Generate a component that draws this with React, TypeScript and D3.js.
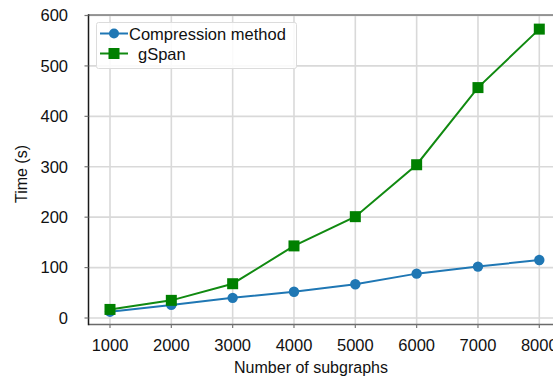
import React, { useEffect, useRef } from 'react';
import * as d3 from 'd3';

const subgraphs = [1000, 2000, 3000, 4000, 5000, 6000, 7000, 8000];
const compressionTimes = [12.5, 26, 40, 52, 67, 88, 102, 115];
const gspanTimes = [17, 35, 68, 143, 201, 304, 457, 573];
const yTicks = [0, 100, 200, 300, 400, 500, 600];
const seriesNames = ['Compression method', 'gSpan'];

const WIDTH = 553;
const HEIGHT = 377;

const App: React.FC = () => {
  const svgRef = useRef<SVGSVGElement>(null);

  useEffect(() => {
    const svgElement = svgRef.current;
    if (!svgElement) return;
    const svg = d3.select(svgElement);
    svg.selectAll('*').remove();

    const plot = { left: 88.5, top: 15, right: 562, bottom: 324.5 };
    const font = '"Liberation Sans", Arial, sans-serif';

    const xScale = d3.scaleLinear().domain([1000, 8000]).range([110, 539.3]);
    const yScale = d3.scaleLinear().domain([0, 600]).range([318, 15.5]);

    svg.append('defs')
      .append('clipPath')
      .attr('id', 'plot-clip')
      .append('rect')
      .attr('x', plot.left)
      .attr('y', plot.top - 8)
      .attr('width', plot.right - plot.left)
      .attr('height', plot.bottom - plot.top + 8);

    // grid
    const grid = svg.append('g').attr('clip-path', 'url(#plot-clip)');
    grid.selectAll('.gx')
      .data(subgraphs)
      .enter()
      .append('line')
      .attr('x1', d => xScale(d))
      .attr('x2', d => xScale(d))
      .attr('y1', plot.top)
      .attr('y2', plot.bottom)
      .style('stroke', '#d9d9d9')
      .style('stroke-width', 1.6);
    grid.selectAll('.gy')
      .data(yTicks)
      .enter()
      .append('line')
      .attr('x1', plot.left)
      .attr('x2', plot.right)
      .attr('y1', d => yScale(d))
      .attr('y2', d => yScale(d))
      .style('stroke', '#d9d9d9')
      .style('stroke-width', 1.6);

    // frame
    svg.append('line')
      .attr('x1', plot.left).attr('x2', WIDTH)
      .attr('y1', plot.top).attr('y2', plot.top)
      .style('stroke', '#7a7a7a').style('stroke-width', 1.5);
    svg.append('line')
      .attr('x1', plot.left).attr('x2', WIDTH)
      .attr('y1', plot.bottom).attr('y2', plot.bottom)
      .style('stroke', '#6a6a6a').style('stroke-width', 1.5);
    svg.append('line')
      .attr('x1', plot.left).attr('x2', plot.left)
      .attr('y1', plot.top - 0.75).attr('y2', plot.bottom + 0.75)
      .style('stroke', '#1a1a1a').style('stroke-width', 1.5);

    // ticks
    svg.selectAll('.ty')
      .data(yTicks)
      .enter()
      .append('line')
      .attr('x1', plot.left - 4)
      .attr('x2', plot.left)
      .attr('y1', d => yScale(d))
      .attr('y2', d => yScale(d))
      .style('stroke', '#777')
      .style('stroke-width', 1.2);
    svg.selectAll('.tx')
      .data(subgraphs)
      .enter()
      .append('line')
      .attr('x1', d => xScale(d))
      .attr('x2', d => xScale(d))
      .attr('y1', plot.bottom)
      .attr('y2', plot.bottom + 3.5)
      .style('stroke', '#777')
      .style('stroke-width', 1.2);

    // tick labels
    svg.selectAll('.ly')
      .data(yTicks)
      .enter()
      .append('text')
      .attr('x', 68)
      .attr('y', d => yScale(d) + 5.8)
      .attr('text-anchor', 'end')
      .style('font-family', font)
      .style('font-size', '16.5px')
      .style('fill', '#111')
      .text(d => d);
    svg.selectAll('.lx')
      .data(subgraphs)
      .enter()
      .append('text')
      .attr('x', d => xScale(d))
      .attr('y', 351)
      .attr('text-anchor', 'middle')
      .style('font-family', font)
      .style('font-size', '16.5px')
      .style('fill', '#111')
      .text(d => d);

    // axis titles
    svg.append('text')
      .attr('x', 311)
      .attr('y', 373)
      .attr('text-anchor', 'middle')
      .style('font-family', font)
      .style('font-size', '16px')
      .style('fill', '#111')
      .text('Number of subgraphs');
    svg.append('text')
      .attr('transform', 'translate(27, 174) rotate(-90)')
      .attr('text-anchor', 'middle')
      .style('font-family', font)
      .style('font-size', '16px')
      .style('fill', '#111')
      .text('Time (s)');

    // series
    const line = d3.line<number>()
      .x((_, i) => xScale(subgraphs[i]))
      .y(d => yScale(d));

    const series = svg.append('g').attr('clip-path', 'url(#plot-clip)');
    series.append('path')
      .datum(compressionTimes)
      .attr('d', line)
      .attr('fill', 'none')
      .style('stroke', '#1f77b4')
      .style('stroke-width', 2);
    series.selectAll('.dot')
      .data(compressionTimes)
      .enter()
      .append('circle')
      .attr('cx', (_, i) => xScale(subgraphs[i]))
      .attr('cy', d => yScale(d))
      .attr('r', 5.2)
      .attr('fill', '#1f77b4');

    series.append('path')
      .datum(gspanTimes)
      .attr('d', line)
      .attr('fill', 'none')
      .style('stroke', '#118a11')
      .style('stroke-width', 2);
    series.selectAll('.sq')
      .data(gspanTimes)
      .enter()
      .append('rect')
      .attr('x', (_, i) => xScale(subgraphs[i]) - 5.5)
      .attr('y', d => yScale(d) - 5.5)
      .attr('width', 11)
      .attr('height', 11)
      .attr('fill', '#008000');

    // legend
    const legend = svg.append('g');
    legend.append('rect')
      .attr('x', 96.5)
      .attr('y', 22.5)
      .attr('width', 200)
      .attr('height', 46)
      .attr('rx', 2)
      .attr('fill', 'rgba(255,255,255,0.85)')
      .style('stroke', '#dcdcdc')
      .style('stroke-width', 1);
    const rows = [33.5, 53.5];
    rows.forEach((y, i) => {
      const color = i === 0 ? '#1f77b4' : '#118a11';
      legend.append('line')
        .attr('x1', 100).attr('x2', 128)
        .attr('y1', y).attr('y2', y)
        .style('stroke', color).style('stroke-width', 2);
      if (i === 0) {
        legend.append('circle').attr('cx', 114).attr('cy', y).attr('r', 5).attr('fill', '#1f77b4');
      } else {
        legend.append('rect').attr('x', 108.5).attr('y', y - 5.5).attr('width', 11).attr('height', 11).attr('fill', '#008000');
      }
      legend.append('text')
        .attr('x', i === 0 ? 129 : 138)
        .attr('y', y + 6)
        .style('font-family', font)
        .style('font-size', '16.5px')
        .style('fill', '#111')
        .text(seriesNames[i]);
    });
  }, []);

  return (
    <svg
      ref={svgRef}
      width={WIDTH}
      height={HEIGHT}
      style={{ position: 'fixed', left: 0, top: 0, background: '#fff', display: 'block' }}
    />
  );
};

export default App;
